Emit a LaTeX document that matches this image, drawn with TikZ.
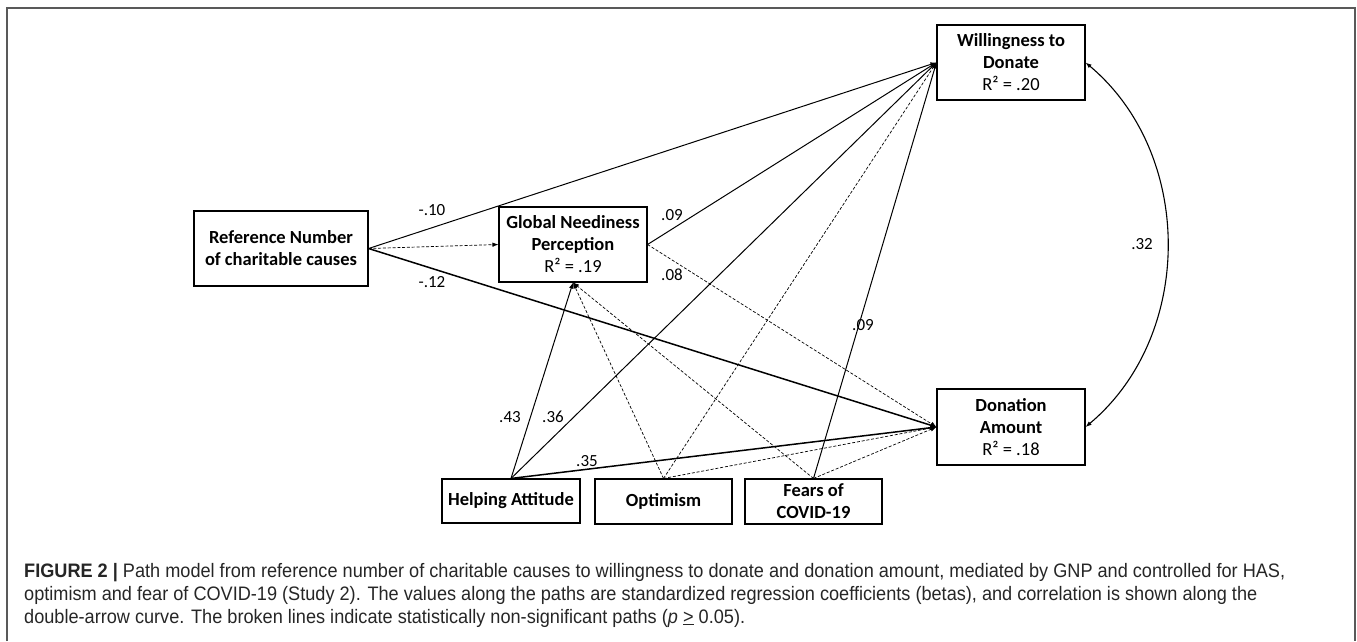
\documentclass[tikz,border=0pt]{standalone}
\usepackage{fontspec}
\setmainfont{Carlito}
\newfontfamily\capfont[FakeStretch=0.93]{Liberation Sans}
\usetikzlibrary{arrows.meta}
\begin{document}
\begin{tikzpicture}[x=1pt,y=-1pt,
  varbox/.style={draw, line width=1.1pt, inner sep=0pt, align=center,
    font=\fontsize{18.5}{22}\selectfont},
  coeflbl/.style={font=\fontsize{17}{19}\selectfont, inner sep=0pt},
  solidarrow/.style={line width=1pt, -{Latex[length=6pt,width=4.5pt]}},
  thickarrow/.style={line width=1.5pt, -{Latex[length=6pt,width=4.5pt]}},
  dasharrow/.style={line width=0.7pt, dash pattern=on 3pt off 1.8pt, -{Latex[length=6pt,width=4.5pt]}},
  captext/.style={anchor=base west, inner sep=0pt, font=\capfont\fontsize{19.5}{23}\selectfont, text=black!85}
]
\useasboundingbox (0,0) rectangle (1357,641);
\draw[black!65, line width=1.5pt] (7,641) -- (7,8) -- (1355,8) -- (1355,641);

% boxes
\node[varbox, minimum width=148pt, minimum height=75pt] (W) at (1011,62.5) {\textbf{Willingness to}\\\textbf{Donate}\\R² = .20};
\node[varbox, minimum width=148pt, minimum height=76pt] (D) at (1011,427) {\textbf{Donation}\\\textbf{Amount}\\R² = .18};
\node[varbox, minimum width=174pt, minimum height=75pt] (R) at (281,248.5) {\textbf{Reference Number}\\\textbf{of charitable causes}};
\node[varbox, minimum width=148pt, minimum height=75pt] (G) at (573,244.5) {\textbf{Global Neediness}\\\textbf{Perception}\\R² = .19};
\node[varbox, minimum width=138pt, minimum height=44pt] (H) at (511,501) {\textbf{Helping Attitude}};
\node[varbox, minimum width=137pt, minimum height=45pt] (O) at (663.5,501.5) {\textbf{Optimism}};
\node[varbox, minimum width=137pt, minimum height=45pt] (F) at (813.5,501.5) {\textbf{Fears of}\\\textbf{COVID-19}};

% paths
\draw[solidarrow] (R.east) -- (W.west);
\draw[thickarrow] (R.east) -- (D.west);
\draw[dasharrow] (R.east) -- (G.west);
\draw[solidarrow] (G.east) -- (W.west);
\draw[dasharrow] (G.east) -- (D.west);
\draw[solidarrow] (H.north) -- (G.south);
\draw[solidarrow] (H.north) -- (W.west);
\draw[thickarrow] (H.north) -- (D.west);
\draw[dasharrow] (O.north) -- (G.south);
\draw[dasharrow] (O.north) -- (W.west);
\draw[dasharrow] (O.north) -- (D.west);
\draw[dasharrow] (F.north) -- (G.south);
\draw[solidarrow] (F.north) -- (W.west);
\draw[dasharrow] (F.north) -- (D.west);
\draw[line width=1.1pt, {Latex[length=6pt,width=4.5pt]}-{Latex[length=6pt,width=4.5pt]}]
  (W.east) to[out=-40, in=40] (D.east);

% labels
\node[coeflbl] (l1) at (432,210) {-.10};
\node[coeflbl] (l2) at (432,282) {-.12};
\node[coeflbl] (l3) at (672,215) {.09};
\node[coeflbl] (l4) at (672,275) {.08};
\node[coeflbl] (l5) at (510,417) {.43};
\node[coeflbl] (l6) at (553,417) {.36};
\node[coeflbl] (l7) at (587,461) {.35};
\node[coeflbl] (l8) at (863,325) {.09};
\node[coeflbl] (l9) at (1142,244) {.32};

% caption
\node[captext] (c1) at (24,577) {\textbf{FIGURE 2 |} Path model from reference number of charitable causes to willingness to donate and donation amount, mediated by GNP and controlled for HAS,};
\node[captext] (c2) at (24,600) {optimism and fear of COVID-19 (Study 2). The values along the paths are standardized regression coefficients (betas), and correlation is shown along the};
\node[captext] (c3) at (24,623) {double-arrow curve. The broken lines indicate statistically non-significant paths (\textit{p} \underline{>} 0.05).};
\end{tikzpicture}
\end{document}
